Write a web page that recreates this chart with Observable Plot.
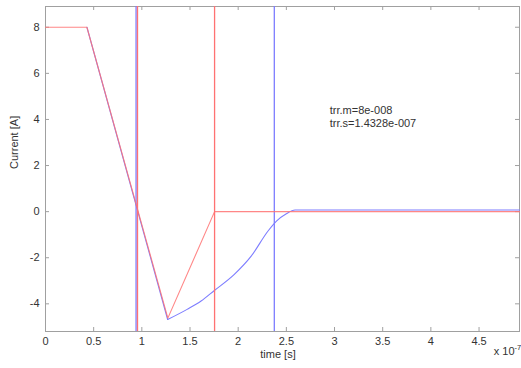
<!DOCTYPE html>
<html>
<head>
<meta charset="utf-8">
<script src="https://cdn.jsdelivr.net/npm/d3@7"></script>
<script src="https://cdn.jsdelivr.net/npm/@observablehq/plot@0.6"></script>
<style>
  html, body { margin: 0; padding: 0; background: #fff; }
</style>
</head>
<body>
<div id="chart"></div>
<script>
// time in units of 1e-7 s, current in A
const timeRed = [0, 0.43, 1.27, 1.755, 4.92];
const currentRed = [8, 8, -4.62, 0, 0];
const timeBlue = [0.43, 1.268, 1.47, 1.615, 1.753, 1.96, 2.135, 2.31, 2.40, 2.50, 2.59, 4.92];
const currentBlue = [8, -4.68, -4.24, -3.88, -3.42, -2.72, -1.93, -0.84, -0.40, -0.09, 0.07, 0.07];
const redMarkers = [0.955, 1.755];
const blueMarkers = [0.94, 2.375];
const xTicks = [0, 0.5, 1, 1.5, 2, 2.5, 3, 3.5, 4, 4.5];
const yTicks = [-4, -2, 0, 2, 4, 6, 8];
const annotation = "trr.m=8e-008\ntrr.s=1.4328e-007";

const red = timeRed.map((t, i) => ({t, c: currentRed[i]}));
const blue = timeBlue.map((t, i) => ({t, c: currentBlue[i]}));
const blueFall = blue.slice(0, 2);
const blueRise = blue.slice(1);

const W = 521, H = 368, mL = 45, mR = 2, mT = 6, mB = 37;
const innerW = W - mL - mR, innerH = H - mT - mB;
const tick = 4;
const axisColor = "#a0a0a0";
const redC = "#ff7272", blueC = "#7d7dff";

const chart = Plot.plot({
  width: W, height: H,
  marginLeft: mL, marginRight: mR, marginTop: mT, marginBottom: mB,
  style: {fontFamily: "'Liberation Sans', Arial, sans-serif", fontSize: "11px", color: "#222", background: "#fff"},
  x: {domain: [0, 4.92], axis: null, label: null},
  y: {domain: [-5.2, 8.9], axis: null, label: null},
  marks: [
    Plot.frame({stroke: axisColor}),
    // inward ticks on all four sides
    Plot.tickX(xTicks, {x: d => d, stroke: axisColor, insetTop: innerH - tick}),
    Plot.tickX(xTicks, {x: d => d, stroke: axisColor, insetBottom: innerH - tick}),
    Plot.tickY(yTicks, {y: d => d, stroke: axisColor, insetRight: innerW - tick}),
    Plot.tickY(yTicks, {y: d => d, stroke: axisColor, insetLeft: innerW - tick}),
    Plot.axisX({ticks: xTicks, tickSize: 0, tickPadding: 6, tickFormat: d => String(d), fill: "#333", label: null}),
    Plot.axisY({ticks: yTicks, tickSize: 0, tickPadding: 6, tickFormat: d => String(d), fill: "#333", label: null}),
    // curves
    Plot.line(blueFall, {x: "t", y: "c", stroke: blueC, strokeWidth: 1.1}),
    Plot.line(blueRise, {x: "t", y: "c", stroke: blueC, strokeWidth: 1.1, curve: "monotone-x"}),
    Plot.ruleX(blueMarkers, {x: d => d, stroke: blueC, strokeWidth: 1.3}),
    Plot.line(red, {x: "t", y: "c", stroke: redC, strokeWidth: 1.1, strokeOpacity: 0.85}),
    Plot.ruleX(redMarkers, {x: d => d, stroke: redC, strokeWidth: 1.3}),
    // annotation
    Plot.text([annotation], {x: 2.95, y: 4.15, text: d => d, textAnchor: "start", lineHeight: 1.2, fontSize: 11, fill: "#333"}),
    // axis labels
    Plot.text(["Current [A]"], {frameAnchor: "left", text: d => d, dx: -31, rotate: -90, fontSize: 11, fill: "#333"}),
    Plot.text(["time [s]"], {frameAnchor: "bottom", text: d => d, dx: -4.5, dy: 26, fontSize: 11, fill: "#333"}),
    Plot.text(["x 10"], {frameAnchor: "bottom-right", text: d => d, textAnchor: "end", dx: -5, dy: 23, fontSize: 11, fill: "#333"}),
    Plot.text(["-7"], {frameAnchor: "bottom-right", text: d => d, textAnchor: "start", dx: -5, dy: 18, fontSize: 7.5, fill: "#333"})
  ]
});
document.getElementById("chart").appendChild(chart);
</script>
</body>
</html>
